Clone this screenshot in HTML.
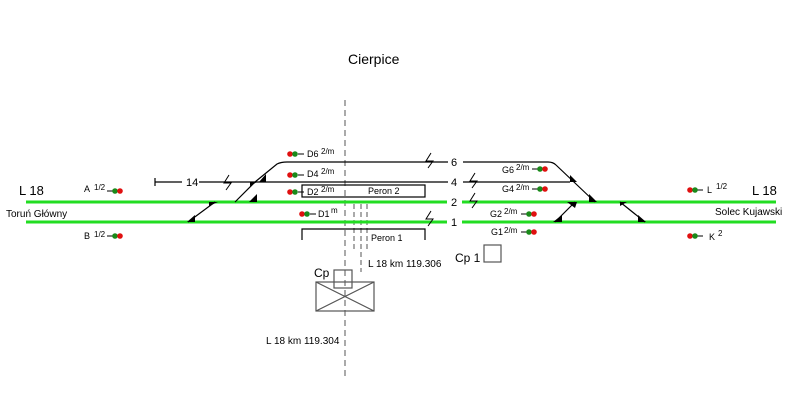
<!DOCTYPE html>
<html><head><style>body{margin:0;background:#fff}svg{display:block}text{font-family:"Liberation Sans",Arial,sans-serif;fill:#000}</style></head>
<body>
<svg width="787" height="414" viewBox="0 0 787 414" xmlns="http://www.w3.org/2000/svg">
<text x="348" y="64" font-size="14">Cierpice</text>
<line x1="345" y1="100" x2="345" y2="376" stroke="#555" stroke-dasharray="6,4"/>
<g stroke="#555" stroke-dasharray="5,3"><line x1="354" y1="204" x2="354" y2="250"/><line x1="361" y1="204" x2="361" y2="272"/><line x1="367" y1="204" x2="367" y2="250"/></g>
<g stroke="#22dd22" stroke-width="3">
<line x1="26" y1="202" x2="447" y2="202"/><line x1="462" y1="202" x2="776" y2="202"/>
<line x1="26" y1="222" x2="447" y2="222"/><line x1="462" y1="222" x2="776" y2="222"/>
</g>
<g stroke="#000" stroke-width="1.2" fill="none">
<path d="M235,202 L255,182 L277,164 Q281,162 287,162 L448,162"/>
<line x1="463" y1="162" x2="548" y2="162"/>
<path d="M548,162 Q553,162 556,165 L595,202"/>
<line x1="155" y1="182" x2="182" y2="182"/><line x1="155" y1="178" x2="155" y2="186"/>
<line x1="199" y1="182" x2="448" y2="182"/>
<line x1="463" y1="182" x2="570" y2="182"/>
<line x1="188" y1="222" x2="215" y2="202"/>
<line x1="555" y1="222" x2="575" y2="202"/>
<line x1="620" y1="202" x2="645" y2="222"/>
<rect x="302" y="185" width="123" height="12"/>
<path d="M302,240 V229 H425 V240"/>
</g>
<g fill="#000">
<polygon points="187,222 195,222 195,215"/>
<polygon points="209,206 218,202 209,202"/>
<polygon points="249,202 257,202 257,194"/>
<polygon points="250,186 257,182 250,182"/>
<polygon points="259,182 266,182 266,174"/>
<polygon points="570,182 577,182 570,175"/>
<polygon points="589,202 597,202 589,194"/>
<polygon points="567,202 577,202 575,208"/>
<polygon points="553,222 562,222 562,215"/>
<polygon points="620,202 627,202 620,206"/>
<polygon points="638,222 646,222 638,215"/>
</g>
<g stroke="#000" stroke-width="1" fill="none">
<path d="M229,175 L224,183 L231,183 L226,190"/>
<path d="M431,153 L426,161 L433,161 L428,168"/>
<path d="M431,211 L426,219 L433,219 L428,226"/>
<path d="M475,173 L470,181 L477,181 L472,188"/>
<path d="M475,193 L470,201 L477,201 L472,208"/>
</g>
<g font-size="11">
<text x="186" y="186">14</text>
<text x="451" y="166">6</text><text x="451" y="186">4</text><text x="451" y="206">2</text><text x="451" y="226">1</text>
</g>
<text x="19" y="195" font-size="13">L 18</text>
<text x="752" y="195" font-size="13">L 18</text>
<text x="6" y="217" font-size="10">Toruń Główny</text>
<text x="715" y="215" font-size="10">Solec Kujawski</text>
<text x="368" y="194" font-size="9">Peron 2</text>
<text x="371" y="241" font-size="9">Peron 1</text>
<g font-size="9">
<text x="84" y="192">A</text><text x="94" y="190" font-size="8">1/2</text>
<text x="84" y="239">B</text><text x="94" y="237" font-size="8">1/2</text>
<text x="307" y="157">D6</text><text x="321" y="154" font-size="8">2/m</text>
<text x="307" y="177">D4</text><text x="321" y="174" font-size="8">2/m</text>
<text x="307" y="195">D2</text><text x="321" y="192" font-size="8">2/m</text>
<text x="318" y="217">D1</text><text x="331" y="213" font-size="8">m</text>
<text x="502" y="173">G6</text><text x="516" y="170" font-size="8">2/m</text>
<text x="502" y="192">G4</text><text x="516" y="190" font-size="8">2/m</text>
<text x="490" y="217">G2</text><text x="504" y="214" font-size="8">2/m</text>
<text x="491" y="235">G1</text><text x="504" y="233" font-size="8">2/m</text>
<text x="707" y="193">L</text><text x="716" y="189" font-size="8">1/2</text>
<text x="709" y="240">K</text><text x="718" y="236" font-size="8">2</text>
</g>
<g stroke="#000" stroke-width="1">
<line x1="107" y1="191" x2="113" y2="191"/><line x1="107" y1="236" x2="113" y2="236"/>
<line x1="298" y1="154" x2="304" y2="154"/><line x1="298" y1="175" x2="304" y2="175"/><line x1="298" y1="192" x2="304" y2="192"/>
<line x1="310" y1="214" x2="316" y2="214"/>
<line x1="532" y1="169" x2="538" y2="169"/><line x1="532" y1="189" x2="538" y2="189"/>
<line x1="521" y1="214" x2="527" y2="214"/><line x1="521" y1="232" x2="527" y2="232"/>
<line x1="697" y1="190" x2="703" y2="190"/><line x1="697" y1="236" x2="703" y2="236"/>
</g>
<g>
<circle cx="115" cy="191" r="2.8" fill="#1a8a1a"/><circle cx="120" cy="191" r="2.8" fill="#e01010"/>
<circle cx="115" cy="236" r="2.8" fill="#1a8a1a"/><circle cx="120" cy="236" r="2.8" fill="#e01010"/>
<circle cx="290" cy="154" r="2.8" fill="#e01010"/><circle cx="295" cy="154" r="2.8" fill="#1a8a1a"/>
<circle cx="290" cy="175" r="2.8" fill="#e01010"/><circle cx="295" cy="175" r="2.8" fill="#1a8a1a"/>
<circle cx="290" cy="192" r="2.8" fill="#e01010"/><circle cx="295" cy="192" r="2.8" fill="#1a8a1a"/>
<circle cx="302" cy="214" r="2.8" fill="#e01010"/><circle cx="307" cy="214" r="2.8" fill="#1a8a1a"/>
<circle cx="540" cy="169" r="2.8" fill="#1a8a1a"/><circle cx="545" cy="169" r="2.8" fill="#e01010"/>
<circle cx="540" cy="189" r="2.8" fill="#1a8a1a"/><circle cx="545" cy="189" r="2.8" fill="#e01010"/>
<circle cx="529" cy="214" r="2.8" fill="#1a8a1a"/><circle cx="534" cy="214" r="2.8" fill="#e01010"/>
<circle cx="529" cy="232" r="2.8" fill="#1a8a1a"/><circle cx="534" cy="232" r="2.8" fill="#e01010"/>
<circle cx="690" cy="190" r="2.8" fill="#e01010"/><circle cx="695" cy="190" r="2.8" fill="#1a8a1a"/>
<circle cx="690" cy="236" r="2.8" fill="#e01010"/><circle cx="695" cy="236" r="2.8" fill="#1a8a1a"/>
</g>
<g stroke="#555" stroke-width="1.2" fill="none">
<rect x="316" y="282" width="58" height="29"/>
<line x1="316" y1="282" x2="374" y2="311"/><line x1="316" y1="311" x2="374" y2="282"/>
<rect x="334" y="270" width="18" height="18"/>
<rect x="484" y="245" width="17" height="17"/>
</g>
<text x="314" y="277" font-size="12">Cp</text>
<text x="455" y="262" font-size="12">Cp 1</text>
<text x="368" y="267" font-size="10">L 18 km 119.306</text>
<text x="266" y="344" font-size="10">L 18 km 119.304</text>
</svg>
</body></html>
